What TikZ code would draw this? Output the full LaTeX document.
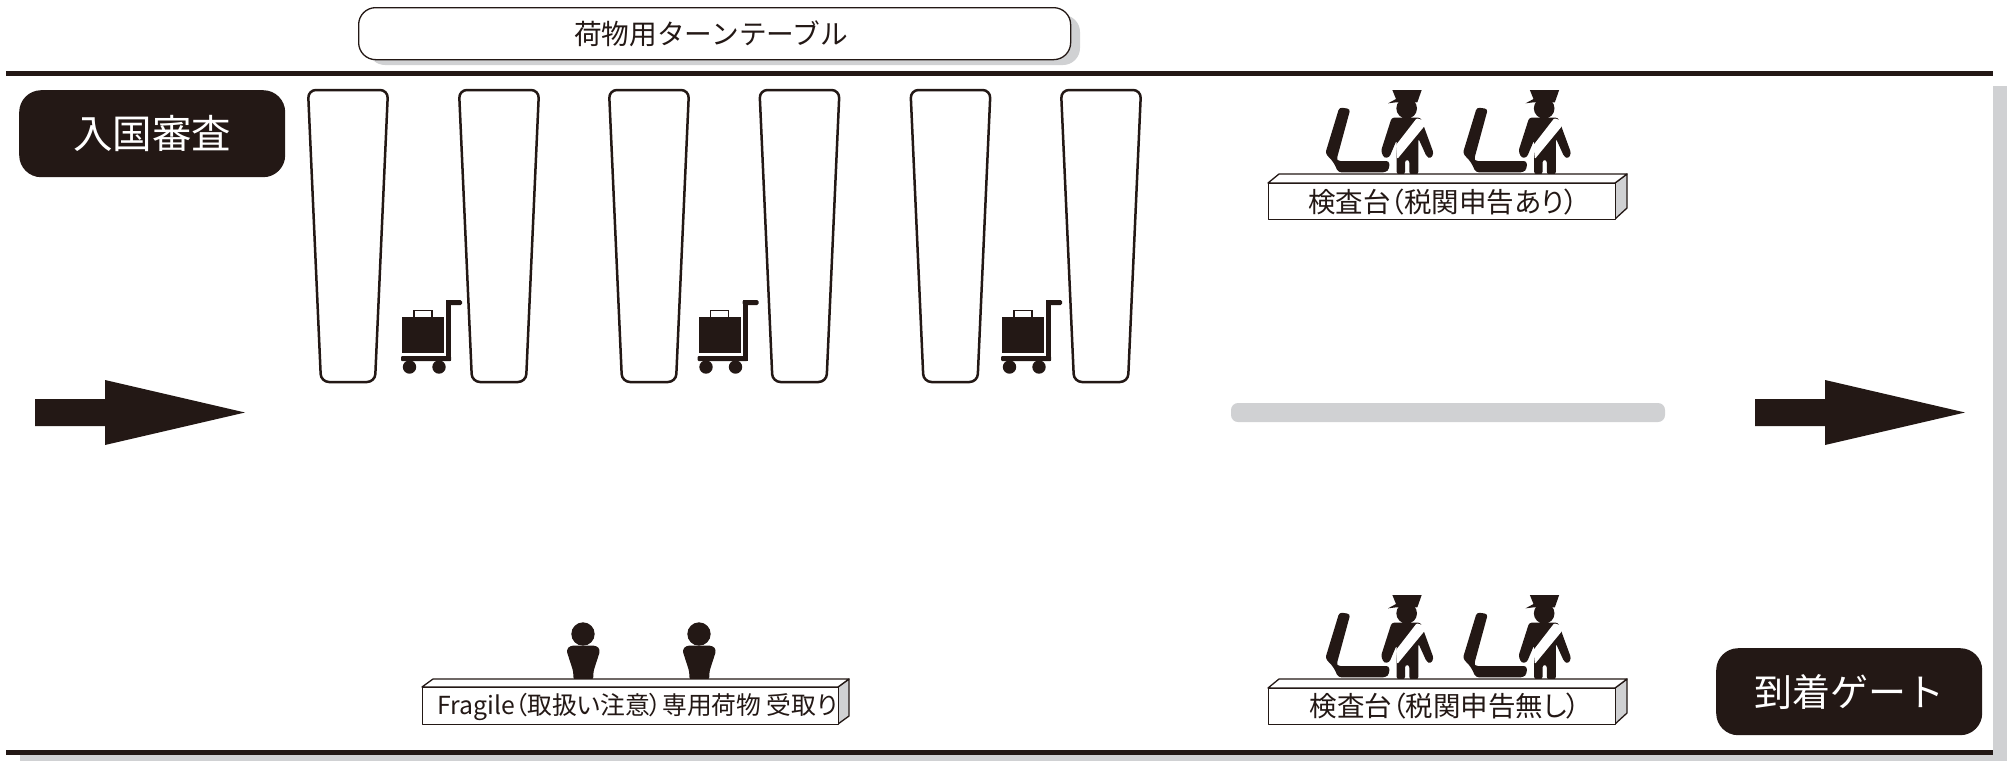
\documentclass[tikz,border=0pt]{standalone}
\usepackage{fontspec}
\setmainfont{Noto Sans CJK JP}
\newfontfamily\palt[RawFeature=+palt]{Noto Sans CJK JP}
\definecolor{ink}{HTML}{231815}
\definecolor{hallgrey}{HTML}{D0D1D3}
\tikzset{
  signbox/.style={fill=ink,text=white,rounded corners=22pt,inner sep=0pt},
  wall/.style={draw=ink,line width=5pt},
  tablebelt/.style={draw=ink,fill=white,line width=2.5pt,rounded corners=8pt},
  countertext/.style={inner sep=0pt,text=ink,font=\palt\fontsize{27.5}{27.5}\selectfont},
  counterline/.style={draw=ink,line width=1.3pt,line join=round},
}
\newcommand{\beltshape}[1]{%
  \begin{scope}[shift={(#1,0)}]
    \draw[tablebelt] (0,90) -- (80,90) -- (67,382) -- (13,382) -- cycle;
  \end{scope}}
\newcommand{\cartshape}[1]{%
  \begin{scope}[shift={(#1,0)}]
    \fill[ink] (402,317) rectangle (444,353);
    \draw[ink,line width=1.6pt] (414,317) -- (414,310.5) -- (432,310.5) -- (432,317);
    \fill[ink,rounded corners=1pt] (401,356) rectangle (451,361);
    \fill[ink] (446,300) rectangle (451,361);
    \fill[ink,rounded corners=1.5pt] (446,300) rectangle (462,305);
    \fill[ink] (409.5,367) circle[radius=6.7];
    \fill[ink] (439,367) circle[radius=6.7];
  \end{scope}}
\newcommand{\officershape}[2]{%
  \begin{scope}[shift={(#1,#2)},x=0.33333pt,y=-0.33333pt]
    % seat
    \fill[ink,rounded corners=3pt] (118,112) -- (151,117) -- (110,268) -- (112,273) -- (268,273) -- (268,296) -- (258,307) -- (115,307) -- (100,276) -- (76,250) -- cycle;
    % cap and head
    \fill[ink] (277,60) -- (365,60) -- (352,97) -- (288,97) -- (264,100) -- (288,87) -- cycle;
    \fill[ink] (320,115) circle[radius=31];
    % body
    \fill[ink,rounded corners=2.5pt] (275,143) -- (362,143) -- (401,250) -- (392,266) -- (380,260) -- (355,205) -- (355,313) -- (328,313) -- (328,270) -- (315,270) -- (315,313) -- (290,313) -- (290,210) -- (268,262) -- (252,264) -- (243,243) -- cycle;
    % sash
    \fill[white,rounded corners=1pt] (350,145) -- (378,153) -- (372,170) -- (292,267) -- (288,225) -- cycle;
  \end{scope}}
\newcommand{\personshape}[1]{%
  \begin{scope}[shift={(#1,600)},x=0.33333pt,y=-0.33333pt]
    \fill[ink] (549,102) circle[radius=35];
    \fill[ink,rounded corners=3pt] (510,137) -- (590,137) -- (601,150) -- (580,215) -- (580,240) -- (520,240) -- (520,215) -- (499,150) -- cycle;
  \end{scope}}
\begin{document}
\begin{tikzpicture}[x=1pt,y=-1pt]
  \useasboundingbox (0,0) rectangle (2011,761);
  \fill[white] (0,0) rectangle (2011,761);
  % shadows of the hall
  \fill[hallgrey] (1993,86) rectangle (2007,761);
  \fill[hallgrey] (20,752) rectangle (2007,761);
  % walls
  \draw[wall] (6,73) -- (1993,73);
  \draw[wall] (6,752) -- (1993,752);
  % turntable title
  \fill[hallgrey,rounded corners=17pt] (368,15) rectangle (1080,65);
  \node[draw=ink,fill=white,line width=1.3pt,rounded corners=17pt,minimum width=712pt,minimum height=52pt,inner sep=0pt,anchor=north west,text=ink,font=\fontsize{27.7}{27.7}\selectfont] (turntable) at (358,7) {荷物用ターンテーブル\hspace*{7pt}};
  % signs
  \node[signbox,minimum width=266pt,minimum height=87pt,anchor=north west,font=\fontsize{39.5}{39.5}\selectfont] (immigration) at (19,90) {入国審査};
  \node[signbox,minimum width=266pt,minimum height=87pt,anchor=north west,font=\fontsize{38}{38}\selectfont] (gate) at (1716,648) {到着ゲート};
  % belts
  \beltshape{308}\beltshape{459}\beltshape{609}\beltshape{759.5}\beltshape{910.5}\beltshape{1061}
  % carts
  \cartshape{0}\cartshape{296.5}\cartshape{600}
  % arrows
  \fill[ink] (35,399) -- (105,399) -- (105,380) -- (245,412.5) -- (105,445) -- (105,426) -- (35,426) -- cycle;
  \fill[ink] (1755,399) -- (1825,399) -- (1825,380) -- (1965,412.5) -- (1825,445) -- (1825,426) -- (1755,426) -- cycle;
  % grey strip
  \fill[hallgrey,rounded corners=7pt] (1231,403) rectangle (1665,422);
  % figures
  \officershape{1300}{70}\officershape{1437.5}{70}
  \officershape{1300}{575}\officershape{1437.5}{575}
  \personshape{400}\personshape{516}
  % counter: declaration
  \draw[counterline,fill=hallgrey] (1615,183) -- (1627,174) -- (1627,208) -- (1615,219) -- cycle;
  \draw[counterline,fill=white] (1268,183) -- (1279,174) -- (1627,174) -- (1615,183) -- cycle;
  \node[counterline,fill=white,minimum width=347pt,minimum height=36pt,anchor=north west,inner sep=0pt] (deskA) at (1268,183) {};
  \node[countertext] (deskAtext) at (1443,202) {検査台（税関申告あり）};
  % counter: no declaration
  \draw[counterline,fill=hallgrey] (1615,688) -- (1627,679) -- (1627,713) -- (1615,724) -- cycle;
  \draw[counterline,fill=white] (1268,688) -- (1279,679) -- (1627,679) -- (1615,688) -- cycle;
  \node[counterline,fill=white,minimum width=347pt,minimum height=36pt,anchor=north west,inner sep=0pt] (deskB) at (1268,688) {};
  \node[countertext] (deskBtext) at (1445,706) {検査台（税関申告無し）};
  % counter: fragile
  \draw[counterline,fill=hallgrey] (838,687) -- (849,679) -- (849,716) -- (838,724) -- cycle;
  \draw[counterline,fill=white] (422,687) -- (433,679) -- (849,679) -- (838,687) -- cycle;
  \node[counterline,fill=white,minimum width=416pt,minimum height=37pt,anchor=north west,inner sep=0pt] (deskC) at (422,687) {};
  \node[countertext,anchor=west,font=\palt\fontsize{24.8}{24.8}\selectfont] (deskCtext) at (437,707) {Fragile（取扱い注意）専用荷物 受取り};
\end{tikzpicture}
\end{document}
